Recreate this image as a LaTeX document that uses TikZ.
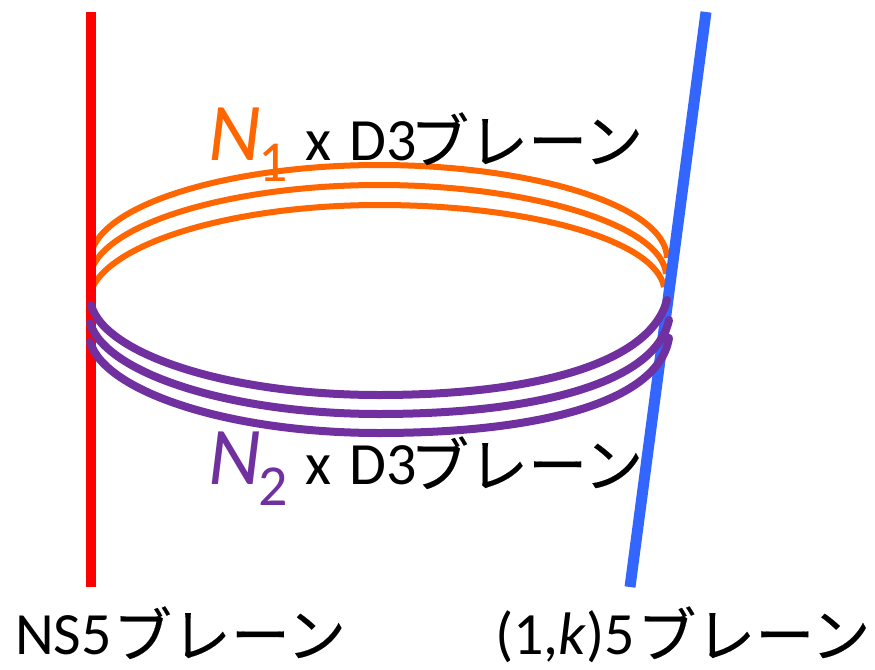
\documentclass[tikz,border=0pt]{standalone}
\usepackage{fontspec}
\setmainfont{Carlito}
\newfontfamily\jpfont[FakeBold=0.25]{Noto Sans CJK JP}
\newcommand{\bure}{\raisebox{-3pt}{\jpfont\fontsize{59}{60}\selectfont ブレーン}}
\definecolor{orangeB}{RGB}{255,102,0}
\definecolor{purpleB}{RGB}{112,48,160}
\definecolor{blueB}{RGB}{51,102,255}
\tikzset{
 lab/.style={inner sep=0pt,anchor=base west,font=\fontsize{60}{62}\selectfont,text=black},
 big/.style={inner sep=0pt,anchor=base west,font=\fontsize{82}{85}\selectfont\itshape},
 subs/.style={inner sep=0pt,anchor=base west,font=\fontsize{58}{60}\selectfont},
 oarc/.style={draw=orangeB,line width=6pt},
 parc/.style={draw=purpleB,line width=8pt,line cap=round},
}
\begin{document}
\begin{tikzpicture}[x=1pt,y=-1pt]
\useasboundingbox (0,0) rectangle (875,669);
% orange
\draw[oarc] (92,250) .. controls (110,200) and (240,165) .. (379,165) .. controls (530,165) and (666,205) .. (667,258);
\draw[oarc] (92,268) .. controls (112,220) and (240,185) .. (379,185) .. controls (530,185) and (662,225) .. (666,274);
\draw[oarc] (92,288) .. controls (115,240) and (240,205) .. (379,205) .. controls (530,205) and (655,240) .. (664,287);
% branes
\coordinate (ns1) at (91,12); \coordinate (ns2) at (91,587);
\coordinate (k1) at (706,12); \coordinate (k2) at (630,587);
\draw[draw=red,line width=10pt] (ns1) -- (ns2);
\draw[draw=blueB,line width=11pt] (k1) -- (k2);
% purple
\draw[parc] (91,305) .. controls (105,355) and (230,395) .. (379,395) .. controls (530,395) and (650,365) .. (667,300);
\draw[parc] (90,323) .. controls (105,373) and (230,414) .. (379,414) .. controls (530,414) and (655,385) .. (669,320);
\draw[parc] (90,342) .. controls (105,392) and (230,433) .. (379,433) .. controls (530,433) and (658,405) .. (669,338);
% labels
\node[big,text=orangeB] (n1) at (208,160) {N};
\node[subs,text=orangeB] (s1) at (258,181) {1};
\node[lab] (t1) at (305,160) {x\hspace{5pt} D3\hspace{-7pt}\bure};
\node[big,text=purpleB] (n2) at (208,484) {N};
\node[subs,text=purpleB] (s2) at (258,505) {2};
\node[lab] (t2) at (305,484) {x\hspace{5pt} D3\hspace{-7pt}\bure};
\node[lab] (t3) at (15,654) {NS5\hspace{1pt}\bure};
\node[lab] (t4) at (495,654) {(1,\textit{k})5\hspace{2pt}\bure};
\end{tikzpicture}
\end{document}
